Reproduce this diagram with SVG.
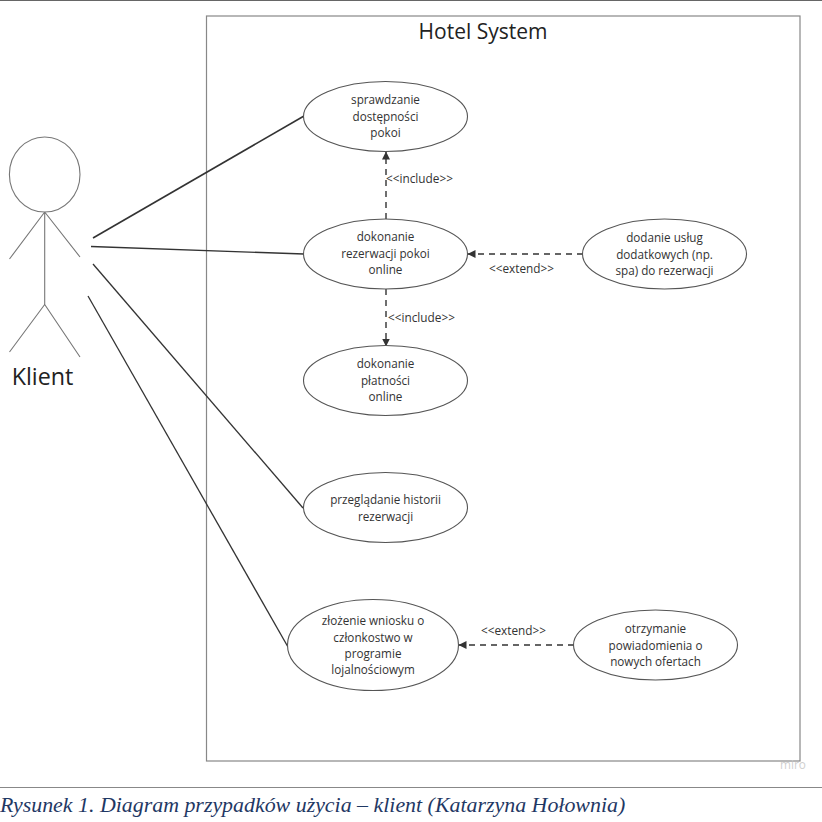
<svg xmlns="http://www.w3.org/2000/svg" width="822" height="822" viewBox="0 0 822 822">
<style>
.uc{fill:#fff;stroke:#555;stroke-width:1.1}
.t{font-family:"Open Sans","Noto Sans",sans-serif;font-size:11.700px;fill:#333;text-anchor:middle}
.l{font-family:"Open Sans","Noto Sans",sans-serif;font-size:11.800px;fill:#333}
.a{stroke:#333;fill:none;stroke-width:1.3}
.d{stroke:#333;fill:none;stroke-width:1.4;stroke-dasharray:6 5;marker-end:url(#arr)}
.s{stroke:#777;fill:none;stroke-width:1.1}
</style>
<defs><marker id="arr" viewBox="0 0 8 8" refX="7.500" refY="4" markerWidth="8" markerHeight="8" markerUnits="userSpaceOnUse" orient="auto"><path d="M0 0L8 4L0 8Z" fill="#333"/></marker></defs>
<rect width="822" height="822" fill="#fff"/>
<line x1="0" y1="0.500" x2="822" y2="0.500" stroke="#666" stroke-width="1.200"/>
<g id="system"><rect x="206.500" y="16" width="593.500" height="745" fill="#fff" stroke="#888" stroke-width="1.200"/>
<text x="483" y="39" font-family="'Open Sans','Noto Sans',sans-serif" font-size="21px" fill="#222" text-anchor="middle">Hotel System</text></g>
<g id="connectors">
<path class="a" stroke-width="1.600" style="stroke-width:1.600" d="M93 238L304 116"/>
<path class="a" d="M91 246.500L304 254"/>
<path class="a" d="M93 264L303 508"/>
<path class="a" d="M88 296L288 647"/>
<path class="d" d="M386 219V152"/>
<path class="d" d="M386 289V346"/>
<path class="d" d="M583 254H468"/>
<path class="d" d="M574 645H459"/>
<text class="l" x="386" y="183">&lt;&lt;include&gt;&gt;</text>
<text class="l" x="388" y="322">&lt;&lt;include&gt;&gt;</text>
<text class="l" x="489" y="273">&lt;&lt;extend&gt;&gt;</text>
<text class="l" x="481" y="635">&lt;&lt;extend&gt;&gt;</text>
</g>
<g id="actor"><ellipse class="s" cx="44.700" cy="174.500" rx="35.300" ry="37.500"/><path class="s" d="M44.700 212V304.500M44.700 212L9.500 259M44.700 212L80 257M44.700 304.500L9.500 352M44.700 304.500L80 357"/>
<text x="42.500" y="385" font-family="'Open Sans','Noto Sans',sans-serif" font-size="23.300px" fill="#222" text-anchor="middle">Klient</text></g>
<g id="uc1"><ellipse class="uc" cx="385.500" cy="116.500" rx="82" ry="35"/><text class="t" x="385.500" y="104">sprawdzanie</text><text class="t" x="385.500" y="120.500">dostępności</text><text class="t" x="385.500" y="137">pokoi</text></g>
<g id="uc2"><ellipse class="uc" cx="385.500" cy="254" rx="82" ry="35"/><text class="t" x="385.500" y="241">dokonanie</text><text class="t" x="385.500" y="257.500">rezerwacji pokoi</text><text class="t" x="385.500" y="274">online</text></g>
<g id="uc3"><ellipse class="uc" cx="385.500" cy="380.500" rx="82" ry="35"/><text class="t" x="385.500" y="368">dokonanie</text><text class="t" x="385.500" y="385">płatności</text><text class="t" x="385.500" y="401">online</text></g>
<g id="uc4"><ellipse class="uc" cx="385.500" cy="507.500" rx="82" ry="35"/><text class="t" x="385.500" y="504">przeglądanie historii</text><text class="t" x="385.500" y="521">rezerwacji</text></g>
<g id="uc5"><ellipse class="uc" cx="373" cy="645" rx="85.500" ry="45.500"/><text class="t" x="373" y="625">złożenie wniosku o</text><text class="t" x="373" y="642">członkostwo w</text><text class="t" x="373" y="658">programie</text><text class="t" x="373" y="674">lojalnościowym</text></g>
<g id="uc6"><ellipse class="uc" cx="664.500" cy="254" rx="82" ry="35"/><text class="t" x="664.500" y="242">dodanie usług</text><text class="t" x="664.500" y="258.500">dodatkowych (np.</text><text class="t" x="664.500" y="275">spa) do rezerwacji</text></g>
<g id="uc7"><ellipse class="uc" cx="655.500" cy="645" rx="82" ry="35"/><text class="t" x="655.500" y="633">otrzymanie</text><text class="t" x="655.500" y="649.500">powiadomienia o</text><text class="t" x="655.500" y="666">nowych ofertach</text></g>
<text x="780" y="769" font-family="'Open Sans',sans-serif" font-size="11.800px" fill="#cfcfcf">miro</text>
<line x1="0" y1="787.500" x2="822" y2="787.500" stroke="#888" stroke-width="1.200"/>
<text x="0" y="812" font-family="'Liberation Serif',serif" font-style="italic" font-size="21.900px" fill="#1f3864">Rysunek 1. Diagram przypadków użycia – klient (Katarzyna Hołownia)</text>
</svg>
